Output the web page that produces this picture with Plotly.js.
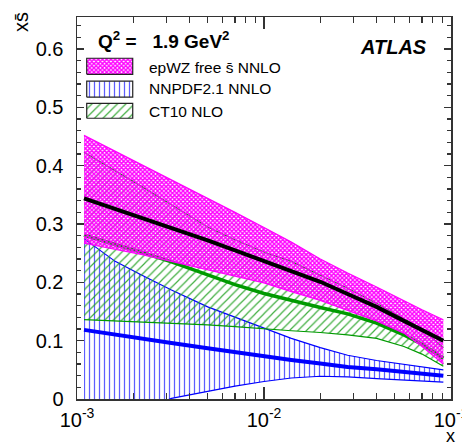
<!DOCTYPE html>
<html><head><meta charset="utf-8">
<script src="https://cdn.plot.ly/plotly-3.0.1.min.js"></script>
<style>html,body{margin:0;padding:0;background:#fff}#plot{width:462px;height:444px}</style>
</head><body><div id="plot"></div>
<script>
// ---- data ----
const xVals   = [0.00109, 0.0016, 0.0022, 0.0032, 0.005, 0.007, 0.01, 0.014, 0.02, 0.028, 0.04, 0.056, 0.07, 0.091];
const epwzUp  = [0.452, 0.425, 0.402, 0.376, 0.345, 0.320, 0.294, 0.269, 0.240, 0.216, 0.192, 0.168, 0.153, 0.136];
const epwzCen = [0.344, 0.326, 0.311, 0.293, 0.272, 0.255, 0.237, 0.220, 0.201, 0.180, 0.158, 0.134, 0.118, 0.100];
const epwzLo  = [0.267, 0.257, 0.248, 0.236, 0.222, 0.211, 0.199, 0.184, 0.169, 0.152, 0.134, 0.113, 0.090, 0.060];
const ct10Up  = [0.423, 0.392, 0.365, 0.333, 0.295, 0.273, 0.252, 0.236, 0.213, 0.190, 0.164, 0.138, 0.120, 0.088];
const ct10Cen = [0.281, 0.266, 0.252, 0.235, 0.213, 0.196, 0.181, 0.169, 0.157, 0.146, 0.130, 0.110, 0.094, 0.070];
const ct10Lo  = [0.136, 0.134, 0.132, 0.130, 0.127, 0.124, 0.120, 0.117, 0.114, 0.110, 0.104, 0.090, 0.077, 0.056];
const nnUp    = [0.275, 0.236, 0.213, 0.187, 0.158, 0.140, 0.122, 0.104, 0.088, 0.075, 0.066, 0.059, 0.055, 0.050];
const nnCen   = [0.1185, 0.111, 0.104, 0.096, 0.087, 0.080, 0.073, 0.067, 0.061, 0.055, 0.051, 0.047, 0.044, 0.040];
const nnLo    = [-0.08, -0.045, -0.02, 0.001, 0.013, 0.022, 0.030, 0.036, 0.039, 0.038, 0.035, 0.033, 0.031, 0.029];
const seriesNames = ['epWZ free s\u0304 NNLO', 'NNPDF2.1 NNLO', 'CT10 NLO'];
const yTickVals = [0, 0.1, 0.2, 0.3, 0.4, 0.5, 0.6];
const xTickVals = [0.001, 0.01, 0.1];
const xTickText = ['10<sup>-3</sup>', '10<sup>-2</sup>', '10<sup>-1</sup>'];
const xMinorVals = [0.002, 0.003, 0.004, 0.005, 0.006, 0.007, 0.008, 0.009,
                    0.02, 0.03, 0.04, 0.05, 0.06, 0.07, 0.08, 0.09];

const FONT = 'Liberation Sans, Arial, Helvetica, sans-serif';
const MAG = '#ff00ff', BLUE = '#0000ff', GREEN = '#009a00';

const magPat  = {shape: 'x', size: 3, solidity: 0.72, fgcolor: MAG, bgcolor: 'rgba(0,0,0,0)'};
const bluePat = {shape: '|', size: 5, solidity: 0.25, fgcolor: 'rgba(40,40,255,0.75)', bgcolor: 'rgba(0,0,0,0)'};
const grnPat  = {shape: '/', size: 6, solidity: 0.2, fgcolor: 'rgba(30,160,30,0.85)', bgcolor: 'rgba(0,0,0,0)'};

function band(xs, up, lo, pat) {
  return {x: xs.concat(xs.slice().reverse()), y: up.concat(lo.slice().reverse()),
    type: 'scatter', mode: 'lines', fill: 'toself', fillcolor: 'rgba(0,0,0,0)',
    fillpattern: pat, line: {width: 0}, hoverinfo: 'skip', showlegend: false};
}
function line(xs, ys, color, w) {
  return {x: xs, y: ys, type: 'scatter', mode: 'lines', line: {color: color, width: w},
    hoverinfo: 'skip', showlegend: false};
}
function legBox(x0, x1, y0, y1, pat) {
  return {x: [x0, x1, x1, x0, x0], y: [y0, y0, y1, y1, y0], xaxis: 'x2', yaxis: 'y2',
    type: 'scatter', mode: 'lines', fill: 'toself', fillcolor: 'rgba(0,0,0,0)', fillpattern: pat,
    line: {color: '#222', width: 1.2}, hoverinfo: 'skip', showlegend: false};
}

const traces = [
  band(xVals, nnUp, nnLo, bluePat),
  line(xVals, nnUp, BLUE, 1.2), line(xVals, nnLo, BLUE, 1.2),
  band(xVals, ct10Up, ct10Lo, grnPat),
  line(xVals, ct10Up, GREEN, 1.2), line(xVals, ct10Lo, GREEN, 1.2),
  line(xVals, nnCen, BLUE, 4),
  line(xVals, ct10Cen, GREEN, 3.5),
  band(xVals, epwzUp, epwzLo, magPat),
  line(xVals, epwzUp, MAG, 1.2), line(xVals, epwzLo, MAG, 1.2),
  line(xVals, epwzCen, '#000', 4),
  legBox(0.026, 0.149, 0.850, 0.892, magPat),
  legBox(0.026, 0.149, 0.790, 0.832, bluePat),
  legBox(0.026, 0.149, 0.735, 0.774, grnPat)
];

const axisCommon = {showline: true, linecolor: '#333', linewidth: 1.5, mirror: 'ticks',
  ticks: 'inside', tickcolor: '#333', tickwidth: 1.2, showgrid: false, zeroline: false,
  tickfont: {family: FONT, size: 20, color: '#000'}};

const layout = {
  width: 462, height: 444,
  margin: {l: 77.3, r: 11, t: 16.7, b: 44.8},
  paper_bgcolor: '#fff', plot_bgcolor: '#fff',
  showlegend: false,
  font: {family: FONT, color: '#000'},
  xaxis: Object.assign({}, axisCommon, {
    type: 'log', range: [-3, -1], tickvals: xTickVals, ticktext: xTickText,
    ticklen: 12, ticklabelstandoff: 2, ticklabeloverflow: 'allow',
    minor: {ticks: 'inside', ticklen: 6, tickvals: xMinorVals, tickcolor: '#333', tickwidth: 1.2, showgrid: false}
  }),
  yaxis: Object.assign({}, axisCommon, {
    range: [0, 0.655], tickvals: yTickVals, ticklen: 7, ticklabelstandoff: 8,
    minor: {ticks: 'inside', ticklen: 4, dtick: 0.02, tickcolor: '#333', tickwidth: 1.2, showgrid: false}
  }),
  xaxis2: {overlaying: 'x', anchor: 'y2', range: [0, 1], visible: false, fixedrange: true},
  yaxis2: {overlaying: 'y', anchor: 'x2', range: [0, 1], visible: false, fixedrange: true},
  annotations: [
    {xref: 'paper', yref: 'paper', x: 0.052, y: 0.939, xanchor: 'left', yanchor: 'middle', showarrow: false,
     text: '<b>Q<sup>2</sup> =\u00a0\u00a0 1.9 GeV<sup>2</sup></b>', font: {family: FONT, size: 19}},
    {xref: 'paper', yref: 'paper', x: 0.941, y: 0.921, xanchor: 'right', yanchor: 'middle', showarrow: false,
     text: '<b><i>ATLAS</i></b>', font: {family: FONT, size: 20}},
    {xref: 'paper', yref: 'paper', x: 0.186, y: 0.869, xanchor: 'left', yanchor: 'middle', showarrow: false,
     text: seriesNames[0], font: {family: FONT, size: 15.5}},
    {xref: 'paper', yref: 'paper', x: 0.186, y: 0.813, xanchor: 'left', yanchor: 'middle', showarrow: false,
     text: seriesNames[1], font: {family: FONT, size: 15.5}},
    {xref: 'paper', yref: 'paper', x: 0.186, y: 0.753, xanchor: 'left', yanchor: 'middle', showarrow: false,
     text: seriesNames[2], font: {family: FONT, size: 15.5}},
    {xref: 'paper', yref: 'paper', x: -0.148, y: 0.986, xanchor: 'center', yanchor: 'middle', showarrow: false,
     textangle: -90, text: 'xs\u0304', font: {family: FONT, size: 20}},
    {xref: 'paper', yref: 'paper', x: 0.998, y: -0.098, xanchor: 'center', yanchor: 'middle', showarrow: false,
     text: 'x', font: {family: FONT, size: 18}}
  ]
};

Plotly.newPlot('plot', traces, layout, {displayModeBar: false, staticPlot: true});
</script>
</body></html>
